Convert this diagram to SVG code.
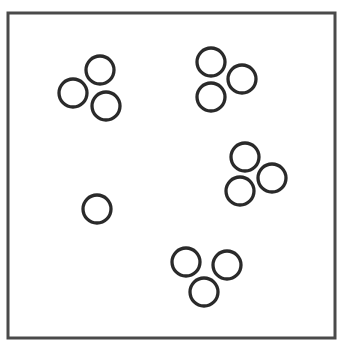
<svg xmlns="http://www.w3.org/2000/svg" width="339" height="342" viewBox="0 0 339 342">
<style>
.c{fill:none;stroke:#2a2a2a;stroke-width:3.3}
.f{fill:#fff;stroke:#4a4a4a;stroke-width:3}
</style>
<rect x="0" y="0" width="339" height="342" fill="#fff"/>
<rect class="f" x="8" y="13" width="327" height="325"/>
<g id="cluster1"><circle class="c" cx="100" cy="70" r="14"/><circle class="c" cx="73" cy="93" r="14"/><circle class="c" cx="106" cy="106" r="14"/></g>
<g id="cluster2"><circle class="c" cx="211" cy="62" r="14"/><circle class="c" cx="242" cy="79" r="14"/><circle class="c" cx="211" cy="97" r="14"/></g>
<g id="cluster3"><circle class="c" cx="245" cy="157" r="14"/><circle class="c" cx="272" cy="178" r="14"/><circle class="c" cx="240" cy="191" r="14"/></g>
<g id="single"><circle class="c" cx="97" cy="209" r="14"/></g>
<g id="cluster5"><circle class="c" cx="186" cy="262" r="14"/><circle class="c" cx="227" cy="265" r="14"/><circle class="c" cx="204" cy="292" r="14"/></g>
<g id="connectors"/>
</svg>
